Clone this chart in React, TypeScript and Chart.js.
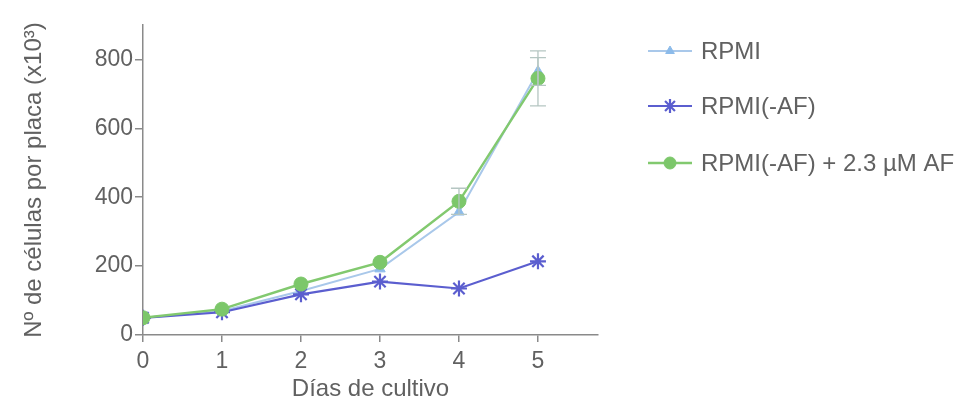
import React, { useEffect, useRef } from "react";
import { Chart, registerables } from "chart.js";
import { drawPoint } from "chart.js/helpers";

Chart.register(...registerables);

const days = [0, 1, 2, 3, 4, 5];
const xTicks = [0, 1, 2, 3, 4, 5];
const yTicks = [0, 200, 400, 600, 800];

const seriesLabels = ["RPMI", "RPMI(-AF)", "RPMI(-AF) + 2.3 \u00B5M AF"];
const rpmi = [50, 70, 128, 192, 357, 765];
const rpmiNoAF = [50, 66, 118, 155, 135, 214];
const rpmiAF = [50, 75, 148, 211, 388, 745];

const rpmiErr = [0, 0, 0, 0, 0, 40];
const rpmiNoAFErr = [0, 0, 0, 0, 0, 0];
const rpmiAFErr = [0, 0, 0, 0, 38, 80];

const FONT = "'Liberation Sans', Arial, sans-serif";
const TEXT = "#616161";
const AXIS = "#8a8a8a";

const errorBarPlugin = {
  id: "errorBars",
  afterDatasetsDraw(chart: any) {
    const ctx = chart.ctx;
    const xs = chart.scales.x;
    const ys = chart.scales.y;
    const errs = [rpmiErr, rpmiNoAFErr, rpmiAFErr];
    const vals = [rpmi, rpmiNoAF, rpmiAF];
    ctx.save();
    ctx.strokeStyle = "#b5c6c2";
    ctx.lineWidth = 1.3;
    vals.forEach((series, i) => {
      series.forEach((v, j) => {
        const e = errs[i][j];
        if (!e) return;
        const x = xs.getPixelForValue(days[j]);
        const y1 = ys.getPixelForValue(v + e);
        const y2 = ys.getPixelForValue(v - e);
        ctx.beginPath();
        ctx.moveTo(x, y1);
        ctx.lineTo(x, y2);
        ctx.moveTo(x - 8, y1);
        ctx.lineTo(x + 8, y1);
        ctx.moveTo(x - 8, y2);
        ctx.lineTo(x + 8, y2);
        ctx.stroke();
      });
    });
    ctx.restore();
  },
};

const legendPlugin = {
  id: "sideLegend",
  afterDraw(chart: any) {
    const ctx = chart.ctx;
    const area = chart.chartArea;
    const x0 = area.right + 50;
    const x1 = x0 + 44;
    const rows = [area.top + 26, area.top + 81, area.top + 138];
    ctx.save();
    chart.data.datasets.forEach((ds: any, i: number) => {
      const y = rows[i];
      ctx.strokeStyle = ds.borderColor;
      ctx.lineWidth = ds.borderWidth;
      ctx.beginPath();
      ctx.moveTo(x0, y);
      ctx.lineTo(x1, y);
      ctx.stroke();
      ctx.fillStyle = ds.pointBackgroundColor;
      ctx.strokeStyle = ds.pointBorderColor;
      ctx.lineWidth = ds.pointBorderWidth;
      drawPoint(ctx, { pointStyle: ds.pointStyle, radius: ds.pointRadius - 1, rotation: 0, borderWidth: ds.pointBorderWidth }, (x0 + x1) / 2, y);
      ctx.fillStyle = TEXT;
      ctx.font = `24px ${FONT}`;
      ctx.textAlign = "left";
      ctx.textBaseline = "middle";
      ctx.fillText(ds.label, x1 + 9, y + 1);
    });
    ctx.restore();
  },
};

export default function App() {
  const ref = useRef<HTMLCanvasElement | null>(null);
  useEffect(() => {
    if (!ref.current) return;
    const mk = (vals: number[]) => vals.map((v, i) => ({ x: days[i], y: v }));
    const chart = new Chart(ref.current, {
      type: "line",
      data: {
        datasets: [
          {
            label: seriesLabels[0],
            data: mk(rpmi),
            borderColor: "#a9c8ea",
            borderWidth: 2,
            pointStyle: "triangle",
            pointRadius: 6,
            pointBackgroundColor: "#8cbbea",
            pointBorderColor: "#8cbbea",
            pointBorderWidth: 1,
            order: 2,
          },
          {
            label: seriesLabels[1],
            data: mk(rpmiNoAF),
            borderColor: "#5b5ecf",
            borderWidth: 2.2,
            pointStyle: "star",
            pointRadius: 8,
            pointBackgroundColor: "#5b5ecf",
            pointBorderColor: "#5b5ecf",
            pointBorderWidth: 2.2,
            order: 1,
          },
          {
            label: seriesLabels[2],
            data: mk(rpmiAF),
            borderColor: "#82c96f",
            borderWidth: 2.4,
            pointStyle: "circle",
            pointRadius: 7,
            pointBackgroundColor: "#7cc76a",
            pointBorderColor: "#7cc76a",
            pointBorderWidth: 1,
            order: 0,
          },
        ],
      },
      options: {
        animation: false,
        responsive: true,
        maintainAspectRatio: false,
        layout: { padding: { top: 25, right: 380, bottom: 0, left: 0 } },
        plugins: { legend: { display: false }, tooltip: { enabled: false } },
        scales: {
          x: {
            type: "linear",
            min: 0,
            max: 5.76,
            afterBuildTicks: (s: any) => {
              s.ticks = xTicks.map((v) => ({ value: v }));
            },
            afterFit: (s: any) => {
              s.height = 70;
            },
            grid: { drawOnChartArea: false, drawTicks: true, tickLength: 7, color: AXIS, lineWidth: 1.5 },
            border: { display: true, color: AXIS, width: 1.5 },
            ticks: { color: TEXT, font: { family: FONT, size: 23 }, padding: 6 },
            title: {
              display: true,
              text: "D\u00EDas de cultivo",
              color: TEXT,
              font: { family: FONT, size: 24 },
              padding: { top: 0, bottom: 1 },
            },
          },
          y: {
            type: "linear",
            min: 0,
            max: 900,
            afterBuildTicks: (s: any) => {
              s.ticks = yTicks.map((v) => ({ value: v }));
            },
            afterFit: (s: any) => {
              s.width = 143;
            },
            grid: { drawOnChartArea: false, drawTicks: true, tickLength: 8, color: AXIS, lineWidth: 1.5 },
            border: { display: true, color: AXIS, width: 1.5 },
            ticks: { color: TEXT, font: { family: FONT, size: 23 }, padding: 2 },
            title: {
              display: true,
              text: "N\u00BA de c\u00E9lulas por placa (x10\u00B3)",
              color: TEXT,
              font: { family: FONT, size: 24 },
              padding: { top: 20, bottom: 0 },
            },
          },
        },
      },
      plugins: [errorBarPlugin, legendPlugin],
    } as any);
    return () => chart.destroy();
  }, []);
  return (
    <div style={{ position: "fixed", left: 0, top: 0, width: 978, height: 405, background: "#fff" }}>
      <canvas ref={ref} />
    </div>
  );
}
